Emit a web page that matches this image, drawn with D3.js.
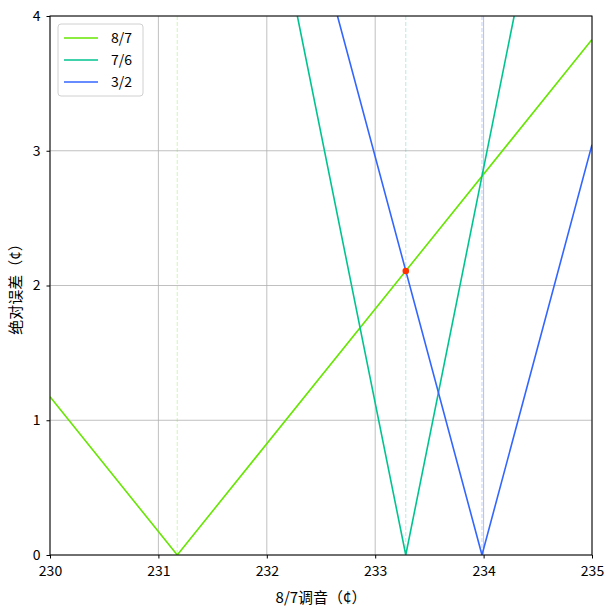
<!DOCTYPE html>
<html>
<head>
<meta charset="utf-8">
<script src="https://cdn.jsdelivr.net/npm/d3@7"></script>
<style>
  body { margin: 0; background: #fff; }
  text { font-family: "Noto Sans CJK SC", "DejaVu Sans", sans-serif; }
</style>
</head>
<body>
<svg id="chart" width="614" height="610"></svg>
<script>
const MARGIN = { top: 16, right: 22, bottom: 55, left: 50 };
const WIDTH = 614, HEIGHT = 610;

// x ticks / y ticks
const xTicks = [230, 231, 232, 233, 234, 235];
const yTicks = [0, 1, 2, 3, 4];

// series names + colours
const seriesNames = ["8/7", "7/6", "3/2"];
const seriesColors = ["#66e600", "#00c48f", "#3366ff"];

// breakpoints (tuning, abs error)
const err87 = [[230, 1.174], [231.174, 0], [235, 3.826]];
const err76 = [[232.282, 4], [233.282, 0], [234.282, 4]];
const err32 = [[232.652, 4], [233.985, 0], [235, 3.045]];

// minima of each series (dashed verticals)
const minima = [231.174, 233.282, 233.985];

// highlighted crossing point
const crossing = [233.282, 2.108];

const svg = d3.select("#chart");
const width = WIDTH - MARGIN.left - MARGIN.right;
const height = HEIGHT - MARGIN.top - MARGIN.bottom;

const x = d3.scaleLinear().domain([230, 235]).range([0, width]);
const y = d3.scaleLinear().domain([0, 4]).range([height, 0]);

svg.append("defs").append("clipPath").attr("id", "clip")
  .append("rect").attr("width", width).attr("height", height);

const g = svg.append("g")
  .attr("transform", "translate(" + MARGIN.left + "," + MARGIN.top + ")");

// grid
g.append("g").selectAll("line.gx")
  .data(xTicks).enter().append("line")
  .attr("x1", d => x(d)).attr("x2", d => x(d))
  .attr("y1", 0).attr("y2", height)
  .style("stroke", "#b0b0b0").style("stroke-width", 0.8);
g.append("g").selectAll("line.gy")
  .data(yTicks).enter().append("line")
  .attr("y1", d => y(d)).attr("y2", d => y(d))
  .attr("x1", 0).attr("x2", width)
  .style("stroke", "#b0b0b0").style("stroke-width", 0.8);

// dashed minima lines
g.append("g").selectAll("line.min")
  .data(minima).enter().append("line")
  .attr("x1", d => x(d)).attr("x2", d => x(d))
  .attr("y1", 0).attr("y2", height)
  .style("stroke", (d, i) => seriesColors[i])
  .style("stroke-opacity", 0.3)
  .style("stroke-width", 1)
  .style("stroke-dasharray", "4,2");

const line = d3.line().x(d => x(d[0])).y(d => y(d[1]));
const lines = g.append("g").attr("clip-path", "url(#clip)");
[err87, err76, err32].forEach((pts, i) => {
  lines.append("path")
    .datum(pts)
    .attr("d", line)
    .style("fill", "none")
    .style("stroke", seriesColors[i])
    .style("stroke-width", 1.6);
});

g.append("circle")
  .attr("cx", x(crossing[0])).attr("cy", y(crossing[1]))
  .attr("r", 3.3)
  .style("fill", "#ff3300");

// axes
const xAxis = g.append("g")
  .attr("transform", "translate(0," + height + ")")
  .call(d3.axisBottom(x).tickValues(xTicks).tickSize(3.5).tickPadding(8).tickFormat(d3.format("d")));
const yAxis = g.append("g")
  .call(d3.axisLeft(y).tickValues(yTicks).tickSize(3.5).tickPadding(6).tickFormat(d3.format("d")));
[xAxis, yAxis].forEach(a => {
  a.selectAll("text").style("font-size", "14px").style("fill", "#000")
    .style("font-family", "\"Noto Sans CJK SC\", sans-serif");
  a.selectAll("line").style("stroke", "#000");
  a.select(".domain").remove();
});

// frame
g.append("rect")
  .attr("width", width).attr("height", height)
  .style("fill", "none").style("stroke", "#000").style("stroke-width", 1);

// labels
svg.append("text")
  .attr("x", MARGIN.left + width / 2)
  .attr("y", HEIGHT - 7)
  .attr("text-anchor", "middle")
  .style("font-size", "15px")
  .text("8/7调音（¢）");
svg.append("text")
  .attr("transform", "translate(21," + (MARGIN.top + height / 2) + ") rotate(-90)")
  .attr("text-anchor", "middle")
  .style("font-size", "15px")
  .text("绝对误差（¢）");

// legend
const legend = g.append("g").attr("transform", "translate(8,8)");
legend.append("rect")
  .attr("width", 85).attr("height", 72).attr("rx", 3)
  .style("fill", "#fff").style("fill-opacity", 0.8)
  .style("stroke", "#d0d0d0");
seriesNames.forEach((name, i) => {
  const row = legend.append("g").attr("transform", "translate(0," + (14 + i * 22) + ")");
  row.append("line")
    .attr("x1", 6).attr("x2", 40)
    .style("stroke", seriesColors[i]).style("stroke-width", 1.6);
  row.append("text")
    .attr("x", 53).attr("y", 5)
    .style("font-size", "14px")
    .text(name);
});
</script>
</body>
</html>
